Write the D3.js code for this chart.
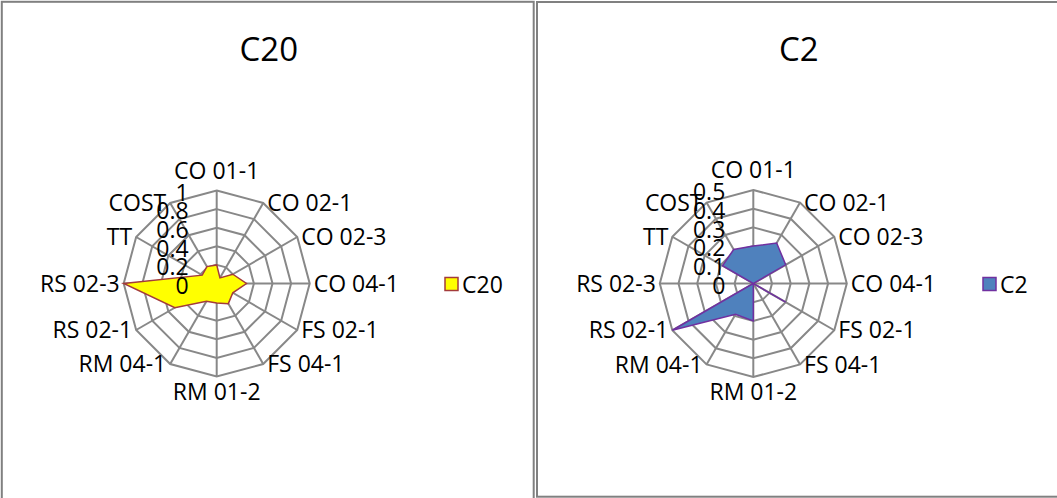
<!DOCTYPE html>
<html>
<head>
<meta charset="utf-8">
<script src="https://cdn.jsdelivr.net/npm/d3@7"></script>
<style>
  body { margin: 0; background: #fff; }
  text { font-family: "Open Sans", sans-serif; fill: #000; }
</style>
</head>
<body>
<svg id="chart" width="1057" height="498"></svg>
<script>
// Axis categories, clockwise from the top
const axes = ["CO 01-1", "CO 02-1", "CO 02-3", "CO 04-1", "FS 02-1", "FS 04-1",
              "RM 01-2", "RM 04-1", "RS 02-1", "RS 02-3", "TT", "COST"];

// Series values
const c20Values = [0.2, 0.07, 0.2, 0.32, 0.2, 0.25, 0.21, 0.22, 0.52, 1.0, 0.18, 0.21];
const c2Values  = [0.2, 0.25, 0.2, 0, 0.2, 0, 0.2, 0.19, 0.5, 0, 0.19, 0.21];

// Radial tick values and labels
const c20Ticks = [0, 0.2, 0.4, 0.6, 0.8, 1];
const c20TickLabels = ["0", "0.2", "0.4", "0.6", "0.8", "1"];
const c2Ticks = [0, 0.1, 0.2, 0.3, 0.4, 0.5];
const c2TickLabels = ["0", "0.1", "0.2", "0.3", "0.4", "0.5"];

const panels = [
  { name: "C20", values: c20Values, ticks: c20Ticks, tickLabels: c20TickLabels,
    box: [1.8, 1.8, 533.7, 520], cx: 216.7, cy: 283.5, R: 93,
    fill: "#FFFF00", stroke: "#A33B3B", legendX: 445 },
  { name: "C2", values: c2Values, ticks: c2Ticks, tickLabels: c2TickLabels,
    box: [537, 2, 1058.5, 496.7], cx: 753.3, cy: 283.5, R: 93.5,
    fill: "#4F81BD", stroke: "#7030A0", legendX: 983 }
];

const svg = d3.select("#chart");
const gridColor = "#888888";
const n = axes.length;
const angle = d3.scaleLinear().domain([0, n]).range([0, 2 * Math.PI]);

panels.forEach(p => {
  const g = svg.append("g");

  // Panel frame
  g.append("rect")
    .attr("x", p.box[0]).attr("y", p.box[1])
    .attr("width", p.box[2] - p.box[0]).attr("height", p.box[3] - p.box[1])
    .attr("fill", "none").attr("stroke", "#808080").attr("stroke-width", 2);

  // Title
  g.append("text")
    .attr("x", (p.box[0] + p.box[2]) / 2 + 1).attr("y", 61)
    .attr("text-anchor", "middle").style("font-size", "33px")
    .text(p.name);

  const r = d3.scaleLinear().domain([0, d3.max(p.ticks)]).range([0, p.R]);
  const plot = g.append("g").attr("transform", `translate(${p.cx},${p.cy})`);

  const ring = d3.lineRadial()
    .angle((d, i) => angle(i))
    .radius(d => r(d))
    .curve(d3.curveLinearClosed);

  // Grid rings
  p.ticks.filter(t => t > 0).forEach(t => {
    plot.append("path")
      .attr("d", ring(axes.map(() => t)))
      .attr("fill", "none").attr("stroke", gridColor).attr("stroke-width", 2);
  });

  // Spokes
  axes.forEach((a, i) => {
    const th = angle(i);
    plot.append("line")
      .attr("x1", 0).attr("y1", 0)
      .attr("x2", r(d3.max(p.ticks)) * Math.sin(th))
      .attr("y2", -r(d3.max(p.ticks)) * Math.cos(th))
      .attr("stroke", gridColor).attr("stroke-width", 2);
  });

  // Data polygon
  plot.append("path")
    .attr("d", ring(p.values))
    .attr("fill", p.fill).attr("stroke", p.stroke).attr("stroke-width", 1.5)
    .attr("stroke-linejoin", "miter");

  // Category labels
  const fs = 23, cap = 16.4;
  axes.forEach((a, i) => {
    const th = angle(i);
    const s = Math.sin(th), c = Math.cos(th);
    const vx = p.R * s, vy = -p.R * c;
    const t = plot.append("text").style("font-size", fs + "px").text(a);
    if (Math.abs(s) < 0.01) {
      t.attr("text-anchor", "middle").attr("x", vx)
       .attr("y", c > 0 ? vy - 12 : vy + 7 + cap);
    } else {
      t.attr("text-anchor", s > 0 ? "start" : "end")
       .attr("x", vx + (s > 0 ? 4 : -4))
       .attr("y", vy + cap / 2);
    }
  });

  // Radial tick labels
  p.ticks.forEach((t, i) => {
    plot.append("text")
      .attr("text-anchor", "end").style("font-size", fs + "px")
      .attr("x", -28).attr("y", -r(t) + 2 + cap / 2)
      .text(p.tickLabels[i]);
  });

  // Legend
  g.append("rect")
    .attr("x", p.legendX).attr("y", 277.5).attr("width", 13).attr("height", 13)
    .attr("fill", p.fill).attr("stroke", p.stroke).attr("stroke-width", 1.5);
  g.append("text")
    .attr("x", p.legendX + 17).attr("y", 292.5)
    .style("font-size", "23px")
    .text(p.name);
});
</script>
</body>
</html>
